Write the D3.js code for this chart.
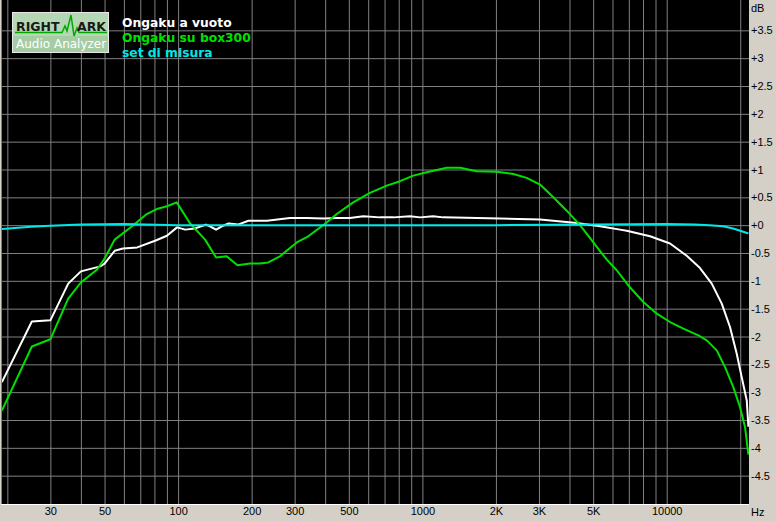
<!DOCTYPE html>
<html>
<head>
<meta charset="utf-8">
<script src="https://cdnjs.cloudflare.com/ajax/libs/d3/7.8.5/d3.min.js"></script>
<style>
	body { margin: 0; background: #d4d0c8; overflow: hidden; }
	svg { display: block; }
</style>
</head>
<body>
<svg></svg>
<script>
'use strict'

// frequency response, dB vs Hz
let vuotoFreq = [19, 25.2, 30, 35.5, 40, 48, 50, 55, 59.5, 68, 80.5, 90, 99, 107, 117, 130, 135, 143, 151, 161, 176, 194, 231, 287, 336, 393, 446, 505, 573, 671, 761, 890, 978, 1106, 1215, 2078, 3031, 4283, 5335, 6442, 6862, 8547, 10320, 12080, 13690, 15290, 16800, 18160, 19350, 20280, 21270, 21600]
let vuotoDb = [-2.82, -1.73, -1.71, -1.05, -0.83, -0.74, -0.69, -0.46, -0.42, -0.40, -0.28, -0.19, -0.04, -0.08, -0.06, 0.01, -0.02, -0.08, -0.02, 0.03, 0.01, 0.08, 0.08, 0.13, 0.13, 0.12, 0.13, 0.13, 0.16, 0.14, 0.14, 0.16, 0.14, 0.16, 0.14, 0.12, 0.10, 0.04, -0.02, -0.08, -0.10, -0.20, -0.33, -0.55, -0.77, -1.05, -1.41, -1.83, -2.31, -2.73, -3.15, -3.62]

let boxFreq = [19, 25.2, 30, 35.5, 40, 46.5, 50, 55, 65.6, 74.4, 81.8, 90, 98.7, 112, 129, 143, 158, 175, 197, 216, 234, 261, 306, 341, 393, 446, 521, 610, 715, 810, 918, 1042, 1258, 1426, 1669, 2015, 2357, 2673, 3031, 3436, 3898, 4418, 5009, 5685, 6243, 7083, 8026, 9106, 10320, 11700, 13480, 14590, 16030, 17330, 18740, 19960, 20930, 21600]
let boxDb = [-3.33, -2.18, -2.05, -1.32, -1.03, -0.80, -0.60, -0.26, 0.0, 0.20, 0.29, 0.34, 0.41, 0.03, -0.26, -0.58, -0.56, -0.72, -0.69, -0.69, -0.67, -0.56, -0.31, -0.20, 0.0, 0.20, 0.41, 0.58, 0.71, 0.79, 0.89, 0.95, 1.03, 1.03, 0.97, 0.96, 0.92, 0.85, 0.73, 0.50, 0.26, 0.0, -0.31, -0.62, -0.81, -1.12, -1.38, -1.59, -1.74, -1.86, -1.98, -2.07, -2.25, -2.55, -2.91, -3.27, -3.63, -4.12]

let misuraFreq = [19, 25, 30, 40, 60, 100, 200, 500, 1000, 2000, 5000, 10000, 13000, 15000, 17000, 18700, 20000, 21600]
let misuraDb = [-0.07, -0.03, -0.01, 0.01, 0.02, 0.0, 0.0, 0.0, 0.0, 0.0, 0.01, 0.02, 0.01, 0.0, -0.02, -0.06, -0.10, -0.15]

let seriesNames = ['Ongaku a vuoto', 'Ongaku su box300', 'set di misura']
let seriesColors = ['#ffffff', '#00e000', '#00e8e8']

let freqTicks = [30, 50, 100, 200, 300, 500, 1000, 2000, 3000, 5000, 10000]
let freqTickLabels = ['30', '50', '100', '200', '300', '500', '1000', '2K', '3K', '5K', '10000']
let dbTicks = [3.5, 3, 2.5, 2, 1.5, 1, 0.5, 0, -0.5, -1, -1.5, -2, -2.5, -3, -3.5, -4, -4.5]

let width = 776,
	height = 521

let plotLeft = 2,
	plotRight = 749,
	plotTop = 0,
	plotBottom = 504

let svg = d3.select('svg')
	.attr('width', width)
	.attr('height', height)

let x = d3.scaleLog()
	.domain([19, 21600])
	.range([1.9, 748.4])

let y = d3.scaleLinear()
	.domain([-5, 4])
	.range([503.5, 2.5])

// plot background + sunken border
svg.append('rect')
	.attr('x', plotLeft)
	.attr('y', plotTop)
	.attr('width', plotRight - plotLeft)
	.attr('height', plotBottom - plotTop)
	.attr('fill', '#000')

svg.append('line')
	.attr('x1', 1.5).attr('x2', 1.5)
	.attr('y1', 0).attr('y2', plotBottom)
	.attr('stroke', '#808080')

svg.append('line')
	.attr('x1', 1).attr('x2', plotRight)
	.attr('y1', plotBottom + 0.5).attr('y2', plotBottom + 0.5)
	.attr('stroke', '#ffffff')

// grid
let vGrid = svg.append('g')
	.attr('transform', 'translate(0,' + plotBottom + ')')
	.call(d3.axisBottom(x).tickSize(-plotBottom).tickFormat(''))

let hGrid = svg.append('g')
	.attr('transform', 'translate(' + plotLeft + ',0)')
	.call(d3.axisRight(y).tickValues(dbTicks).tickSize(plotRight - plotLeft).tickFormat(''))

;[vGrid, hGrid].forEach(function(g) {
	g.select('.domain').remove()
	g.selectAll('line').attr('stroke', '#808080')
})

// curves
let clip = svg.append('clipPath')
	.attr('id', 'plotClip')
	.append('rect')
	.attr('x', plotLeft)
	.attr('y', plotTop)
	.attr('width', plotRight - plotLeft)
	.attr('height', plotBottom - plotTop)

let line = d3.line()
	.x(function(d) { return x(d[0]) })
	.y(function(d) { return y(d[1]) })

let series = [
	d3.zip(vuotoFreq, vuotoDb),
	d3.zip(boxFreq, boxDb),
	d3.zip(misuraFreq, misuraDb)
]

svg.append('g')
	.attr('clip-path', 'url(#plotClip)')
	.selectAll('path')
	.data(series)
	.enter().append('path')
	.attr('d', line)
	.attr('fill', 'none')
	.attr('stroke', function(d, i) { return seriesColors[i] })
	.attr('stroke-width', 2)
	.attr('stroke-linejoin', 'round')

// axis labels
let dbAxis = svg.append('g')
	.attr('transform', 'translate(' + plotRight + ',0)')
	.call(d3.axisRight(y).tickValues(dbTicks).tickSize(0).tickPadding(2)
		.tickFormat(function(d) {
			return (d >= 0 ? '+' : '-') + Math.abs(d)
		}))

let hzAxis = svg.append('g')
	.attr('transform', 'translate(0,' + plotBottom + ')')
	.call(d3.axisBottom(x).tickValues(freqTicks).tickSize(0).tickPadding(3)
		.tickFormat(function(d, i) { return freqTickLabels[i] }))

;[dbAxis, hzAxis].forEach(function(g) {
	g.select('.domain').remove()
	g.attr('font-family', 'Liberation Sans, Arial, sans-serif')
		.attr('font-size', 11)
	g.selectAll('text').attr('fill', '#000')
})

svg.append('text')
	.attr('x', 751)
	.attr('y', 12)
	.attr('font-family', 'Liberation Sans, Arial, sans-serif')
	.attr('font-size', 11)
	.text('dB')

svg.append('text')
	.attr('x', 751)
	.attr('y', 516)
	.attr('font-family', 'Liberation Sans, Arial, sans-serif')
	.attr('font-size', 11)
	.text('Hz')

// legend
svg.append('g')
	.selectAll('text')
	.data(seriesNames)
	.enter().append('text')
	.attr('x', 122)
	.attr('y', function(d, i) { return 26.5 + i * 15.3 })
	.attr('font-family', 'DejaVu Sans, Verdana, sans-serif')
	.attr('font-weight', 'bold')
	.attr('font-size', 12.3)
	.attr('fill', function(d, i) { return seriesColors[i] })
	.text(function(d) { return d })

// logo
let logo = svg.append('g')

logo.append('rect')
	.attr('x', 12.5).attr('y', 12.5)
	.attr('width', 96).attr('height', 40)
	.attr('fill', '#b4d8b4')
	.attr('stroke', '#e8e8e8')

logo.append('rect')
	.attr('x', 13).attr('y', 36)
	.attr('width', 95).attr('height', 16)
	.attr('fill', '#a6cca6')

logo.append('path')
	.attr('d', d3.line()([[15, 32.5], [62, 32.5], [65, 26], [67, 31], [71, 15], [74, 36], [77, 28], [79, 32.5], [107, 32.5]]))
	.attr('fill', 'none')
	.attr('stroke', '#00a800')
	.attr('stroke-width', 1.5)

logo.append('text')
	.attr('x', 16).attr('y', 31)
	.attr('font-family', 'DejaVu Sans, Verdana, sans-serif')
	.attr('font-weight', 'bold')
	.attr('font-size', 12.5)
	.attr('fill', '#1a1a1a')
	.text('RIGHT')

logo.append('text')
	.attr('x', 77).attr('y', 31)
	.attr('font-family', 'DejaVu Sans, Verdana, sans-serif')
	.attr('font-weight', 'bold')
	.attr('font-size', 12.5)
	.attr('fill', '#1a1a1a')
	.text('ARK')

logo.append('text')
	.attr('x', 16).attr('y', 48)
	.attr('font-family', 'DejaVu Sans, Verdana, sans-serif')
	.attr('font-size', 12)
	.attr('fill', '#ffffff')
	.text('Audio Analyzer')
</script>
</body>
</html>
